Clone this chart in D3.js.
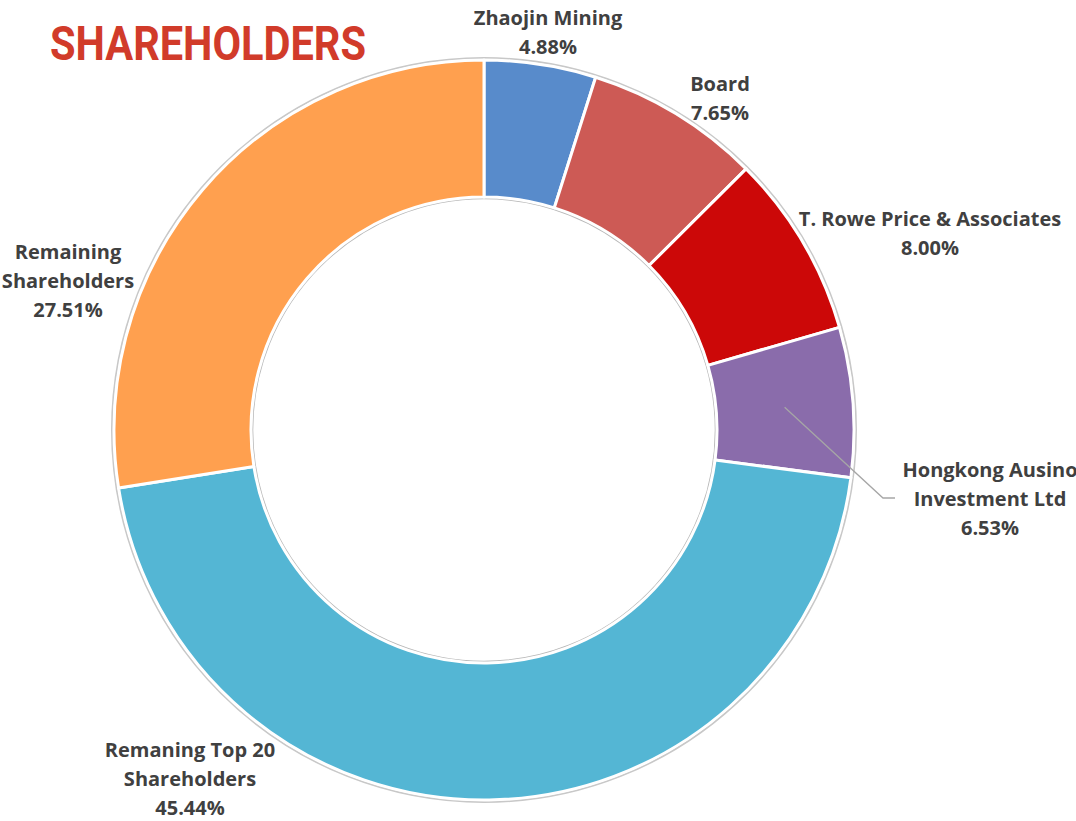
<!DOCTYPE html>
<html>
<head>
<meta charset="utf-8">
<script src="https://cdn.jsdelivr.net/npm/d3@7"></script>
<style>
  html, body { margin: 0; padding: 0; background: #fff; overflow: hidden; }
  svg { display: block; }
</style>
</head>
<body>
<svg id="chart" width="1076" height="821"></svg>
<script>
// ---- data ----
const categories = [
  "Zhaojin Mining",
  "Board",
  "T. Rowe Price & Associates",
  "Hongkong Ausino Investment Ltd",
  "Remaning Top 20 Shareholders",
  "Remaining Shareholders"
];
const values = [4.88, 7.65, 8.00, 6.53, 45.44, 27.51];
const labelLines = [
  ["Zhaojin Mining"],
  ["Board"],
  ["T. Rowe Price & Associates"],
  ["Hongkong Ausino", "Investment Ltd"],
  ["Remaning Top 20", "Shareholders"],
  ["Remaining", "Shareholders"]
];
const colors = ["#588BCB", "#CD5A55", "#CC0808", "#8A6CAB", "#54B6D4", "#FFA04F"];

// ---- layout (styles / positions, not data) ----
const cx = 484, cy = 430, outerR = 370, innerR = 233;
const labelAnchors = [
  [548, 18], [720, 84], [930, 219], [990, 470], [190, 750], [68, 252]
];
const lineH = 29;

const svg = d3.select("#chart");

// title
svg.append("text")
  .attr("x", 50).attr("y", 60)
  .attr("textLength", 316).attr("lengthAdjust", "spacingAndGlyphs")
  .style("font-family", "Roboto, sans-serif")
  .style("font-weight", 700)
  .style("font-size", "49px")
  .style("fill", "#D13B2A")
  .text("SHAREHOLDERS");

const g = svg.append("g").attr("transform", `translate(${cx},${cy})`);

// soft outer/inner grey rims
g.append("circle").attr("r", outerR + 2).attr("fill", "none")
  .attr("stroke", "#c8c8c8").attr("stroke-width", 2);
g.append("circle").attr("r", innerR - 1.5).attr("fill", "none")
  .attr("stroke", "#b8b8b8").attr("stroke-width", 1.5);

const pie = d3.pie().value(d => d).sort(null);
const arc = d3.arc().innerRadius(innerR).outerRadius(outerR);
const arcs = pie(values);

g.selectAll("path.slice").data(arcs).enter().append("path")
  .attr("class", "slice")
  .attr("d", arc)
  .attr("fill", (d, i) => colors[i])
  .attr("stroke", "#fff")
  .attr("stroke-width", 3)
  .attr("stroke-linejoin", "round");

// leader line for Hongkong Ausino
{
  const d = arcs[3];
  const c = d3.arc().innerRadius(innerR).outerRadius(outerR).centroid(d);
  svg.append("polyline")
    .attr("points", `${cx + c[0]},${cy + c[1]} ${883},${498} ${895},${498}`)
    .attr("fill", "none").attr("stroke", "#a6a6a6").attr("stroke-width", 1.3);
}

// labels
arcs.forEach((d, i) => {
  const [x, y] = labelAnchors[i];
  const lines = labelLines[i].concat([values[i].toFixed(2) + "%"]);
  const t = svg.append("text")
    .attr("text-anchor", "middle")
    .style("font-family", "'Open Sans', Lato, sans-serif")
    .style("font-weight", 700)
    .style("font-size", "20px")
    .style("fill", "#404040");
  lines.forEach((ln, k) => {
    t.append("tspan").attr("x", x).attr("y", y + k * lineH)
      .attr("dy", "0.35em").text(ln);
  });
});
</script>
</body>
</html>
